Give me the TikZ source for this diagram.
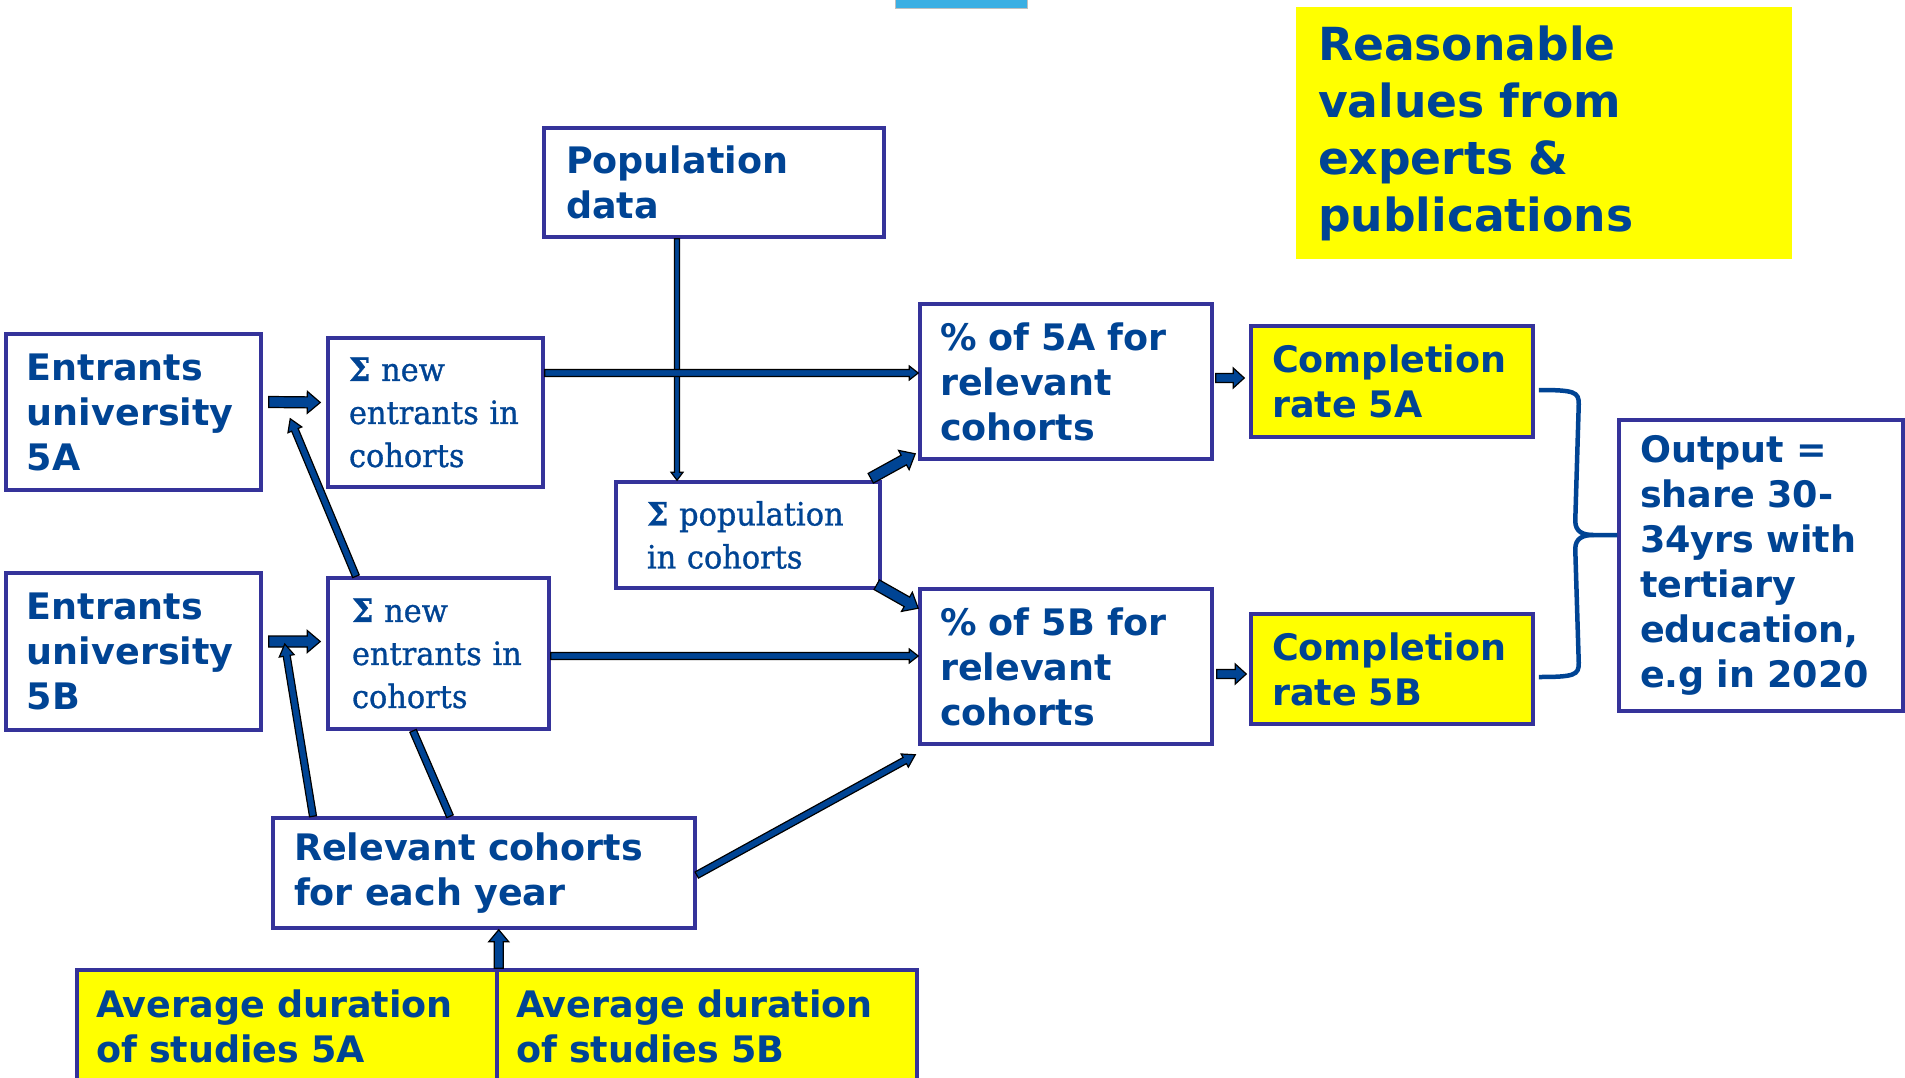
\documentclass[tikz,border=0pt]{standalone}
\usepackage{fontspec}
\setmainfont{DejaVu Sans}
\newfontfamily\sigmafont{DejaVu Serif}[FakeStretch=0.95, FakeBold=1]
\usetikzlibrary{calc}

\definecolor{eublue}{HTML}{004494}
\definecolor{frame}{HTML}{35339A}
\definecolor{hiyellow}{HTML}{FFFF00}
\definecolor{barblue}{HTML}{3BAFE3}

\tikzset{
  whitebox/.style={draw=frame, line width=3.5pt, fill=white, text=eublue,
    font=\bfseries\fontsize{36.5}{45}\selectfont},
  yellowbox/.style={whitebox, fill=hiyellow},
  sigmabox/.style={draw=frame, line width=3.5pt, fill=white, text=eublue,
    font=\sigmafont\fontsize{32}{43}\selectfont},
  notebox/.style={fill=hiyellow, text=eublue,
    font=\bfseries\fontsize{45.6}{57}\selectfont},
  arrowbody/.style={fill=eublue, draw=black, line width=1.2pt, line join=miter},
  bracket/.style={draw=eublue, line width=4.5pt, line cap=butt}
}

% bold summation sign for the serif boxes
\newcommand\sumsign{{\bfseries Σ}}

% box given by left, top, right, bottom and inner horizontal padding
\newcommand\flowbox[8]{%
  \pgfmathsetmacro\fbW{#4-#2}%
  \pgfmathsetmacro\fbH{#5-#3}%
  \pgfmathsetmacro\fbT{#4-#2-2*#6}%
  \node[#7, minimum width=\fbW pt, minimum height=\fbH pt, text width=\fbT pt,
        inner xsep=#6pt, inner ysep=0pt, align=left]
    (#1) at ({(#2+#4)/2},{(#3+#5)/2}) {#8};}

% outlined block arrow: from, to, half shaft, half head, head length
\newcommand\blockarrow[5]{%
  \path (#1); \pgfgetlastxy{\baX}{\baY}%
  \path (#2); \pgfgetlastxy{\bbX}{\bbY}%
  \pgfmathsetmacro\baAng{atan2(\bbY-\baY,\bbX-\baX)}%
  \pgfmathsetmacro\baLen{veclen(\bbX-\baX,\bbY-\baY)}%
  \begin{scope}[shift={(\baX,\baY)}, rotate=\baAng]
    \filldraw[arrowbody] (0,#3) -- ({\baLen-#5},#3) -- ({\baLen-#5},#4)
      -- (\baLen,0) -- ({\baLen-#5},-#4) -- ({\baLen-#5},-#3) -- (0,-#3) -- cycle;
  \end{scope}}

\begin{document}
\begin{tikzpicture}[x=1pt, y=-1pt]
\useasboundingbox (0,0) rectangle (1905,1078);
\clip (0,0) rectangle (1905,1078);
\fill[white] (0,0) rectangle (1905,1078);

% small bar at the top edge
\filldraw[fill=barblue, draw=gray!50, line width=1pt] (895,-3) rectangle (1027,9);

% yellow note
\flowbox{note}{1296}{7}{1792}{259}{22}{notebox}{Reasonable\\values from\\experts \&\\publications}

% boxes
\flowbox{pop}{544}{128}{884}{237}{22}{whitebox}{Population\\data}
\flowbox{e5a}{6}{334}{261}{490}{21}{whitebox}{Entrants\\university\\5A}
\flowbox{e5b}{6}{573}{261}{730}{21}{whitebox}{Entrants\\university\\5B}
\flowbox{s5a}{328}{338}{543}{487}{21}{sigmabox}{\mbox{\sumsign{} new}\\\mbox{entrants in}\\cohorts}
\flowbox{s5b}{328}{578}{549}{729}{24}{sigmabox}{\mbox{\sumsign{} new}\\\mbox{entrants in}\\cohorts}
\flowbox{spop}{616}{482}{880}{588}{31}{sigmabox}{\mbox{\sumsign{} population}\\\mbox{in cohorts}}
\flowbox{p5a}{920}{304}{1212}{459}{20}{whitebox}{\% of 5A for\\relevant\\cohorts}
\flowbox{p5b}{920}{589}{1212}{744}{20}{whitebox}{\% of 5B for\\relevant\\cohorts}
\flowbox{c5a}{1251}{326}{1533}{437}{21}{yellowbox}{Completion\\rate 5A}
\flowbox{c5b}{1251}{614}{1533}{724}{21}{yellowbox}{Completion\\rate 5B}
\flowbox{out}{1619}{420}{1903}{711}{21}{whitebox}{Output =\\share 30-\\34yrs with\\tertiary\\education,\\e.g in 2020}
\flowbox{rel}{273}{818}{695}{928}{21}{whitebox}{Relevant cohorts\\for each year}
\flowbox{avgA}{77}{970}{497}{1082}{19}{yellowbox}{Average duration\\of studies 5A}
\flowbox{avgB}{497}{970}{917}{1082}{19}{yellowbox}{Average duration\\of studies 5B}

% connectors
\blockarrow{$(pop.south)+(-37,0)$}{$(spop.north)+(-71,0)$}{2.5}{6}{8}
\blockarrow{$(s5a.east)+(0,-39.5)$}{$(p5a.west)+(0,-8.5)$}{3.5}{7}{9}
\blockarrow{$(s5b.east)+(0,2.5)$}{$(p5b.west)+(0,-10.5)$}{3.5}{7}{9}

\blockarrow{$(e5a.east)+(6,-10)$}{$(s5a.west)+(-6,-10)$}{5.5}{11}{13}
\blockarrow{$(e5b.east)+(6,-10)$}{$(s5b.west)+(-6,-12)$}{5.5}{11}{13}

\blockarrow{$(s5b.north)+(-82.5,0)$}{$(s5a.south west)+(-36,-70)$}{3.5}{7.5}{12}
\blockarrow{$(rel.north)+(-171,0)$}{$(e5b.east)+(22,-7.5)$}{3.5}{7.5}{12}
\blockarrow{$(rel.north)+(-34,0)$}{$(s5b.south)+(-25.5,0)$}{3.5}{3.5}{0}
\blockarrow{$(rel.east)+(0,2)$}{$(p5b.south west)+(-3,9)$}{3.5}{7.5}{12}

\blockarrow{$(spop.north east)+(-11,-2)$}{$(p5a.south west)+(-3,-7)$}{5.5}{11}{13}
\blockarrow{$(spop.south east)+(-5,-5)$}{$(p5b.north west)+(0,21)$}{5.5}{11}{13}

\blockarrow{$(p5a.east)+(2,-3.5)$}{$(c5a.west)+(-5,-3.5)$}{4.5}{10}{11}
\blockarrow{$(p5b.east)+(3,7.5)$}{$(c5b.west)+(-3,5)$}{4.5}{10}{11}

\blockarrow{avgA.north east}{avgA.north east |- rel.south}{4.5}{10}{12}

% bracket joining the two completion rates to the output
\coordinate (bt) at ($(c5a.east)+(4,8.5)$);
\coordinate (bb) at ($(c5b.east)+(4,8)$);
\coordinate (tip) at ($(out.west)+(0,-30.5)$);
\draw[bracket] (bt) .. controls ($(bt)+(36,0)$) and ($(bt)+(40,2)$) .. ($(bt)+(40,14)$)
  -- ($(tip)+(-42,-14)$) .. controls ($(tip)+(-42,-3)$) and ($(tip)+(-34,0)$) .. ($(tip)+(-24,0)$) -- (tip);
\draw[bracket] (bb) .. controls ($(bb)+(36,0)$) and ($(bb)+(40,-2)$) .. ($(bb)+(40,-14)$)
  -- ($(tip)+(-42,14)$) .. controls ($(tip)+(-42,3)$) and ($(tip)+(-34,0)$) .. ($(tip)+(-24,0)$);
\end{tikzpicture}
\end{document}
